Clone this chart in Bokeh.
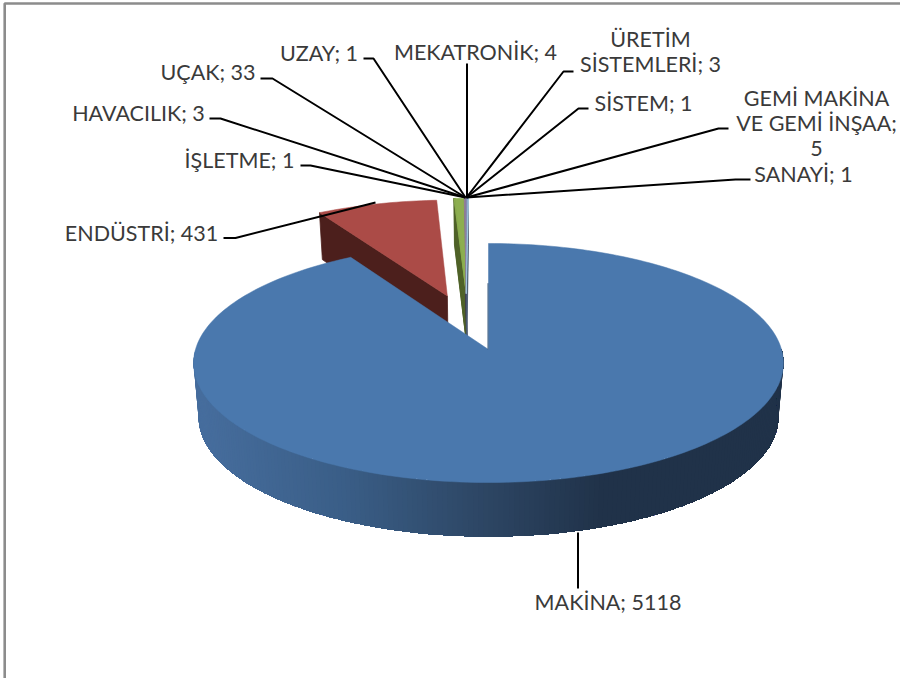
import math
from bokeh.plotting import figure
from bokeh.models import Range1d
from bokeh.core.properties import value
from bokeh.embed import file_html
from bokeh.resources import INLINE

# ---- data ----
names = ["MAKİNA", "ENDÜSTRİ", "İŞLETME", "HAVACILIK", "UÇAK", "UZAY",
         "MEKATRONİK", "ÜRETİM\nSİSTEMLERİ", "SİSTEM", "GEMİ MAKİNA\nVE GEMİ İNŞAA;", "SANAYİ"]
values = [5118, 431, 1, 3, 33, 1, 4, 3, 1, 5, 1]

# ---- styles ----
top_colors = ["#4A78AD", "#AB4B47", "#8DAE50", "#8DAE50", "#8DAE50", "#7F6A9E",
              "#A08898", "#8A7FA5", "#7A7CA0", "#8A9CC0", "#A8D8EC"]
side_colors = ["#2D4664", "#4C1F1C", "#4F6228", "#4F6228", "#4F6228", "#3F3450",
               "#4A4050", "#3A3550", "#3A3A55", "#3A4560", "#4A5A70"]
explode_u = [0, -0.148, -0.08, -0.08, -0.08, -0.08, -0.08, -0.08, -0.08, -0.08, -0.08]
explode_v = [0, -0.4775, -0.5, -0.5, -0.5, -0.5, -0.5, -0.5, -0.5, -0.5, -0.5]
ramp = [(200, (0x46, 0x6D, 0x9D)), (340, (0x3A, 0x5E, 0x87)),
        (480, (0x2D, 0x46, 0x64)), (600, (0x20, 0x32, 0x49)), (790, (0x20, 0x32, 0x49))]

# ---- label layout (label centre x, first line centre y, line step) ----
label_x = [607.5, 141, 239, 138, 207.5, 318.5, 475, 650, 643, 816, 803]
label_y = [601, 232, 159, 112, 71, 52, 51, 38, 102, 97, 173]
LINE_STEP = 25.5
leaders = [
    [(577.5, 532), (577.5, 588)],
    [(223, 237.5), (235, 237.5), (375, 202)],
    [(300, 165), (310, 165), (465, 197)],
    [(209, 118), (220, 118), (465, 197)],
    [(260, 78), (272, 78), (465, 197)],
    [(363, 58), (373, 58), (465, 197)],
    [(466.5, 63), (466.5, 197)],
    [(573, 71), (563, 71), (466, 197)],
    [(588, 108), (578, 108), (466, 197)],
    [(728, 128), (718, 128), (466, 197)],
    [(750, 179), (735, 179), (466, 197)],
]

# ---- projection of the tilted pie ----
CX, CY, RX, RY, K, DEPTH, SHRINK = 488, 349, 293, 118, 0.113, 54, 0.017


def project(u, v, z=0.0):
    s = 1 / (1 - K * v)
    x = CX + RX * u * s * (1 - SHRINK * z)
    y = CY + RY * v * s + DEPTH * z * min(1, s)
    return x, y


def rim(t_deg, u0, v0, z=0.0):
    t = math.radians(t_deg)
    return project(u0 + math.sin(t), v0 - math.cos(t), z)


def ramp_color(x):
    for (x0, c0), (x1, c1) in zip(ramp, ramp[1:]):
        if x <= x1:
            f = max(0, (x - x0) / (x1 - x0))
            return "#%02x%02x%02x" % tuple(round(a + (b - a) * f) for a, b in zip(c0, c1))
    return "#%02x%02x%02x" % ramp[-1][1]


p = figure(width=900, height=678, output_backend="svg", toolbar_location=None,
           x_range=Range1d(0, 900), y_range=Range1d(678, 0),
           min_border=0, min_border_left=0, min_border_right=0, min_border_top=0, min_border_bottom=0,
           outline_line_color=None, background_fill_color="white", border_fill_color="white")
p.axis.visible = False
p.grid.visible = False

# frame
p.line([4.2, 4.2, 900], [678, 3, 3], line_color="#8C8C8C", line_width=2.6)

total = sum(values)
spans = []
acc = 0.0
for val in values:
    a0 = acc / total * 360
    acc += val
    spans.append((a0, acc / total * 360))

# small and exploded slices, back to front
for i in range(1, len(values)):
    a0, a1 = spans[i]
    u0, v0 = explode_u[i], explode_v[i]
    apex = project(u0, v0)
    apex_low = project(u0, v0, 1)
    c0 = rim(a0, u0, v0)
    c0_low = rim(a0, u0, v0, 1)
    p.patch([c0[0], apex[0], apex_low[0], c0_low[0]], [c0[1], apex[1], apex_low[1], c0_low[1]],
            fill_color=side_colors[i], line_color=side_colors[i], line_width=0.8)
for i in range(1, len(values)):
    a0, a1 = spans[i]
    u0, v0 = explode_u[i], explode_v[i]
    apex = project(u0, v0)
    pts = [apex] + [rim(a0 + (a1 - a0) * j / 24, u0, v0) for j in range(25)]
    p.patch([q[0] for q in pts], [q[1] for q in pts], fill_color=top_colors[i],
            line_color=top_colors[i], line_width=0.5)

# main slice: rim strips with shading, then top face
a0, a1 = spans[0]
N = 200
low = [rim(270 - 180 * j / N, 0, 0, 1) for j in range(N + 1)]
high = [rim(270 - 180 * j / N, 0, 0) for j in range(N + 1)]
xs, ys, cols = [], [], []
# painted left to right, every strip reaching on to the far end, so no seams can show
for j in range(N):
    xs.append([q[0] for q in high[j:]] + [q[0] for q in reversed(low[j:])])
    ys.append([q[1] for q in high[j:]] + [q[1] for q in reversed(low[j:])])
    cols.append(ramp_color(high[j][0]))
p.patches(xs, ys, fill_color=cols, line_color=None)

pts = [project(0, 0)] + [rim(a0 + (a1 - a0) * j / 240, 0, 0) for j in range(241)]
p.patch([q[0] for q in pts], [q[1] for q in pts], fill_color=top_colors[0],
        line_color=top_colors[0], line_width=0.5)
edge = [project(0, 0), project(0, -0.6)]
p.line([q[0] - 0.5 for q in edge], [q[1] for q in edge], line_color="#34567c", line_width=1)

# leaders and labels
for path in leaders:
    p.line([q[0] for q in path], [q[1] for q in path], line_color="#000000", line_width=2)

tx, ty, tt = [], [], []
for name, val, lx, ly in zip(names, values, label_x, label_y):
    text = f"{name}; {val}" if not name.endswith(";") else f"{name}\n{val}"
    for k, row in enumerate(text.split("\n")):
        tx.append(lx)
        ty.append(ly + k * LINE_STEP)
        tt.append(row)
p.text(tx, ty, text=tt, text_font=value("Lato"), text_font_size="21.5px", text_color="#3A3A3A",
       text_align="center", text_baseline="middle")

open("out.html", "w").write(file_html(p, INLINE))
